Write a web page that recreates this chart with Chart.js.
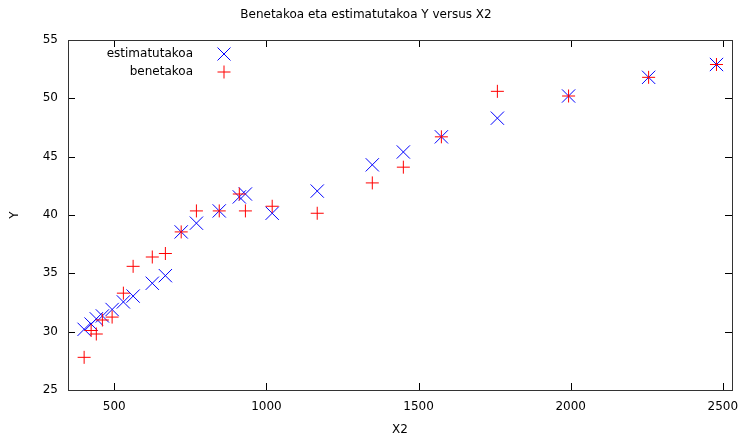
<!DOCTYPE html>
<html>
<head>
<meta charset="utf-8">
<script src="https://cdn.jsdelivr.net/npm/chart.js@4.4.1/dist/chart.umd.min.js"></script>
<style>
    html, body { margin: 0; padding: 0; background: #ffffff; }
    #wrap { width: 744px; height: 437px; }
</style>
</head>
<body>
<div id="wrap"><canvas id="chart"></canvas></div>
<script>

const x2Values = [401, 424, 441, 461, 493, 530, 562, 625, 668, 720, 770, 845,
    911, 931, 1019, 1167, 1348, 1450, 1575, 1759, 1993, 2256, 2479];

const yEstimatutakoa = [30.2, 30.65, 31.1, 31.35, 31.9, 32.55, 33.05, 34.15, 34.8,
    38.55, 39.3, 40.35, 41.55, 41.8, 40.15, 42.05, 44.3, 45.4, 46.7, 48.3,
    50.2, 51.8, 52.9];

const yBenetakoa = [27.8, 30.1, 29.8, 31.0, 31.25, 33.3, 35.6, 36.4, 36.7,
    38.55, 40.35, 40.35, 41.8, 40.35, 40.75, 40.15, 42.75, 44.1, 46.7, 50.6,
    50.2, 51.8, 52.9];

const xTicks = [500, 1000, 1500, 2000, 2500];
const yTicks = [25, 30, 35, 40, 45, 50, 55];

const font = "'DejaVu Sans', sans-serif";

function toPoints(xs, ys) {
    return xs.map((x, i) => ({ x: x, y: ys[i] }));
}

// gnuplot style frame: full border with inward ticks on every side
const framePlugin = {
    id: "frame",
    afterDatasetsDraw(chart) {
        const ctx = chart.ctx;
        const a = chart.chartArea;
        const xs = chart.scales.x;
        const ys = chart.scales.y;
        const len = 7;

        ctx.save();
        ctx.strokeStyle = "#000000";
        ctx.lineWidth = 1;
        ctx.beginPath();

        xTicks.forEach(v => {
            const px = Math.round(xs.getPixelForValue(v)) + 0.5;
            ctx.moveTo(px, a.bottom);
            ctx.lineTo(px, a.bottom - len);
            ctx.moveTo(px, a.top);
            ctx.lineTo(px, a.top + len);
        });

        yTicks.forEach(v => {
            const py = Math.round(ys.getPixelForValue(v)) + 0.5;
            ctx.moveTo(a.left, py);
            ctx.lineTo(a.left + len, py);
            ctx.moveTo(a.right, py);
            ctx.lineTo(a.right - len, py);
        });

        ctx.stroke();

        ctx.strokeStyle = "#333333";
        ctx.strokeRect(Math.round(a.left) + 0.5, Math.round(a.top) + 0.5,
            Math.round(a.right - a.left), Math.round(a.bottom - a.top));

        ctx.restore();
    }
};

// key in the top left corner, text right aligned, symbol to the right
const keyPlugin = {
    id: "key",
    afterDraw(chart) {
        const ctx = chart.ctx;
        const a = chart.chartArea;
        const textRight = a.left + 125;
        const markX = a.left + 156;
        const rows = [a.top + 14, a.top + 32];
        const s = 6.5;

        ctx.save();
        ctx.font = "12px " + font;
        ctx.fillStyle = "#000000";
        ctx.textAlign = "right";
        ctx.textBaseline = "middle";

        chart.data.datasets.forEach((ds, i) => {
            const y = rows[i];
            ctx.fillText(ds.label, textRight, y);
            ctx.strokeStyle = ds.borderColor;
            ctx.lineWidth = 1;
            ctx.beginPath();
            if (ds.pointStyle === "crossRot") {
                ctx.moveTo(markX - s, y - s);
                ctx.lineTo(markX + s, y + s);
                ctx.moveTo(markX - s, y + s);
                ctx.lineTo(markX + s, y - s);
            } else {
                ctx.moveTo(markX - s, y);
                ctx.lineTo(markX + s, y);
                ctx.moveTo(markX, y - s);
                ctx.lineTo(markX, y + s);
            }
            ctx.stroke();
        });

        ctx.restore();
    }
};

new Chart(document.getElementById("chart"), {
    type: "scatter",
    data: {
        datasets: [
            {
                label: "estimatutakoa",
                data: toPoints(x2Values, yEstimatutakoa),
                pointStyle: "crossRot",
                pointRadius: 9.4,
                pointHoverRadius: 9.4,
                borderColor: "#0000ff",
                backgroundColor: "#0000ff",
                borderWidth: 1,
                order: 2
            },
            {
                label: "benetakoa",
                data: toPoints(x2Values, yBenetakoa),
                pointStyle: "cross",
                pointRadius: 6.5,
                pointHoverRadius: 6.5,
                borderColor: "#ff0000",
                backgroundColor: "#ff0000",
                borderWidth: 1,
                order: 1
            }
        ]
    },
    options: {
        responsive: true,
        maintainAspectRatio: false,
        animation: false,
        events: [],
        layout: {
            padding: { left: 0, right: 12, top: 0, bottom: 0 }
        },
        plugins: {
            legend: { display: false },
            tooltip: { enabled: false },
            title: {
                display: true,
                text: "Benetakoa eta estimatutakoa Y versus X2",
                color: "#000000",
                font: { family: font, size: 12, weight: "normal", lineHeight: 1.2 },
                padding: { top: 8, bottom: 17.6 }
            }
        },
        scales: {
            x: {
                type: "linear",
                min: 348,
                max: 2530,
                grid: { display: false, drawTicks: false },
                border: { display: false },
                afterBuildTicks(scale) {
                    scale.ticks = xTicks.map(v => ({ value: v }));
                },
                afterFit(scale) {
                    scale.height = 47;
                    // labels may hang past the frame, as in gnuplot
                    scale.paddingLeft = 0;
                    scale.paddingRight = 0;
                },
                ticks: {
                    color: "#000000",
                    padding: 10,
                    maxRotation: 0,
                    font: { family: font, size: 12 },
                    callback: v => String(v)
                },
                title: {
                    display: true,
                    text: "X2",
                    color: "#000000",
                    font: { family: font, size: 12 },
                    padding: { top: 0, bottom: 0 }
                }
            },
            y: {
                type: "linear",
                min: 25,
                max: 55,
                grid: { display: false, drawTicks: false },
                border: { display: false },
                afterBuildTicks(scale) {
                    scale.ticks = yTicks.map(v => ({ value: v }));
                },
                afterFit(scale) {
                    scale.width = 68;
                },
                ticks: {
                    color: "#000000",
                    padding: 10,
                    font: { family: font, size: 12 },
                    callback: v => String(v)
                },
                title: {
                    display: true,
                    text: "Y",
                    color: "#000000",
                    font: { family: font, size: 12 },
                    padding: { top: 8, bottom: 0 }
                }
            }
        }
    },
    plugins: [framePlugin, keyPlugin]
});

</script>
</body>
</html>
